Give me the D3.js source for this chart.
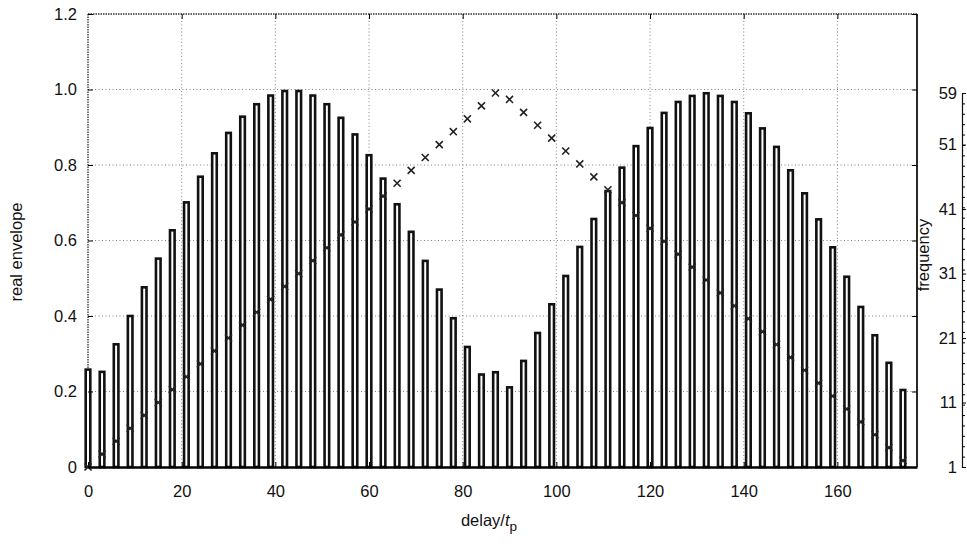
<!DOCTYPE html>
<html><head><meta charset="utf-8">
<script src="https://cdn.jsdelivr.net/npm/d3@7"></script>
<style>
body{margin:0;background:#fff}
text{font-family:"Liberation Sans",Arial,Helvetica,sans-serif;fill:#111}
</style>
</head><body>
<svg id="c" width="967" height="553"></svg>
<script>
// ---- data ----
const delays = [0,3,6,9,12,15,18,21,24,27,30,33,36,39,42,45,48,51,54,57,60,63,66,69,72,75,78,81,84,87,
  90,93,96,99,102,105,108,111,114,117,120,123,126,129,132,135,138,141,144,147,150,153,156,159,162,165,168,171,174];
const envelope = [0.258,0.252,0.325,0.400,0.476,0.552,0.627,0.701,0.769,0.831,0.885,0.928,0.961,0.984,0.996,0.996,0.984,
  0.961,0.925,0.881,0.826,0.764,0.696,0.623,0.546,0.470,0.394,0.318,0.245,0.251,0.211,0.281,0.355,0.431,
  0.506,0.583,0.657,0.731,0.793,0.850,0.898,0.938,0.967,0.983,0.990,0.983,0.967,0.937,0.897,0.848,0.786,0.725,0.656,0.582,0.504,0.424,0.349,0.276,0.204];
const frequency = [1,3,5,7,9,11,13,15,17,19,21,23,25,27,29,31,33,35,37,39,41,43,45,47,49,51,53,55,57,59,
  58,56,54,52,50,48,46,44,42,40,38,36,34,32,30,28,26,24,22,20,18,16,14,12,10,8,6,4,2];
const xTicks = [0,20,40,60,80,100,120,140,160];
const yTicks = [0,0.2,0.4,0.6,0.8,1.0,1.2];
const yTickLabels = ["0","0.2","0.4","0.6","0.8","1.0","1.2"];
const freqTicks = [1,11,21,31,41,51,59];

// ---- layout ----
const L = 88, R = 917, T = 14, B = 467;
const FS = 16.5;
const svg = d3.select("#c");
const x = d3.scaleLinear().domain([0,177]).range([L,R]);
const y = d3.scaleLinear().domain([0,1.2]).range([B,T]);
const yf = d3.scaleLinear().domain([1,59]).range([B,93]);

// grid
const grid = svg.append("g").attr("stroke","#777").attr("stroke-width",0.9).attr("stroke-dasharray","1,2.5");
grid.selectAll("line.h").data(yTicks.filter(v=>v>0 && v<1.2)).join("line")
  .attr("x1",L).attr("x2",R).attr("y1",d=>y(d)).attr("y2",d=>y(d));
grid.selectAll("line.v").data(xTicks.filter(v=>v>0)).join("line")
  .attr("x1",d=>x(d)).attr("x2",d=>x(d)).attr("y1",T).attr("y2",B);

// frame: top & left dotted dark, right solid
svg.append("line").attr("x1",L).attr("x2",R).attr("y1",T).attr("y2",T)
  .attr("stroke","#333").attr("stroke-width",1.3).attr("stroke-dasharray","1.5,1");
svg.append("line").attr("x1",L).attr("x2",L).attr("y1",T).attr("y2",B)
  .attr("stroke","#333").attr("stroke-width",1.3).attr("stroke-dasharray","1.5,1");
svg.append("line").attr("x1",R).attr("x2",R).attr("y1",T).attr("y2",B)
  .attr("stroke","#111").attr("stroke-width",1.8);

// crosses (frequency) drawn under bar outlines
const crossG = svg.append("g");

// bars
const bw = 4.6;
svg.append("g").selectAll("rect").data(delays).join("rect")
  .attr("x",(d)=>x(d)-bw/2).attr("width",bw)
  .attr("y",(d,i)=>y(envelope[i])).attr("height",(d,i)=>y(0)-y(envelope[i]))
  .attr("fill","#fff").attr("stroke","#111").attr("stroke-width",2.6);

crossG.raise();
crossG.selectAll("path").data(delays).join("path")
  .attr("transform",(d,i)=>`translate(${x(d)},${yf(frequency[i])})`)
  .attr("d",d3.symbol(d3.symbolTimes,34))
  .attr("stroke","#222").attr("stroke-width",1.6).attr("fill","none");

// axes
const ax = svg.append("g").attr("transform",`translate(0,${B})`)
  .call(d3.axisBottom(x).tickValues(xTicks).tickFormat(d3.format("d")).tickSizeInner(-5).tickSizeOuter(0).tickPadding(18));
ax.select(".domain").attr("stroke","#000").attr("stroke-width",2.4);
ax.selectAll("text").attr("font-size",FS);
const axT = svg.append("g").attr("transform",`translate(0,${T})`)
  .call(d3.axisTop(x).tickValues(xTicks.filter(v=>v>0)).tickFormat("").tickSizeInner(-5).tickSizeOuter(0));
axT.select(".domain").remove();

const ay = svg.append("g").attr("transform",`translate(${L},0)`)
  .call(d3.axisLeft(y).tickValues(yTicks).tickFormat((d,i)=>yTickLabels[i]).tickSizeInner(-5).tickSizeOuter(0).tickPadding(11));
ay.select(".domain").remove();
ay.selectAll("text").attr("font-size",FS);
const ayR = svg.append("g").attr("transform",`translate(${R},0)`)
  .call(d3.axisRight(y).tickValues(yTicks).tickFormat("").tickSizeInner(-5).tickSizeOuter(0));
ayR.select(".domain").remove();

// right frequency axis
const RF = 962;
const af = svg.append("g").attr("transform",`translate(${RF},0)`)
  .call(d3.axisLeft(yf).tickValues(freqTicks).tickFormat(d3.format("d")).tickSizeInner(-4).tickSizeOuter(-4).tickPadding(5));
af.select(".domain").attr("stroke","#111").attr("stroke-width",1.2);
af.selectAll("text").attr("font-size",FS);
svg.append("g").attr("transform",`translate(${RF},0)`)
  .call(d3.axisRight(yf).tickValues(d3.range(1,59.001,58/36)).tickFormat("").tickSizeInner(3).tickSizeOuter(0))
  .select(".domain").remove();

// titles
svg.append("text").attr("transform","translate(22,252) rotate(-90)")
  .attr("text-anchor","middle").attr("font-size",FS).text("real envelope");
svg.append("text").attr("transform","translate(929,255) rotate(-90)")
  .attr("text-anchor","middle").attr("font-size",FS).text("frequency");
const xl = svg.append("text").attr("x",489).attr("y",526).attr("text-anchor","middle").attr("font-size",FS);
xl.append("tspan").text("delay/");
xl.append("tspan").attr("font-style","italic").text("t");
xl.append("tspan").attr("font-size",13.5).attr("dy",5).text("p");
</script>
</body></html>
